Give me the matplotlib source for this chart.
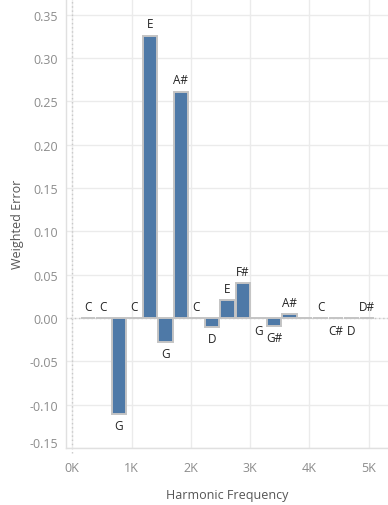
import matplotlib
matplotlib.use("Agg")
import matplotlib.pyplot as plt
import matplotlib.transforms as mtransforms

plt.rcParams['font.family'] = ['Open Sans', 'DejaVu Sans']

# Data
fundamental = 261.63
harmonics = list(range(1, 20))
notes = ["C", "C", "G", "C", "E", "G", "A#", "C", "D", "E", "F#", "G", "G#", "A#", "", "C", "C#", "D", "D#"]
errors = [0.0, 0.0, -0.1104, 0.0, 0.326, -0.0277, 0.2614, 0.0, -0.0100, 0.0203,
          0.0404, -0.0005, -0.0089, 0.0046, 0.0, 0.0, -0.0005, -0.0005, 0.0]
freqs = [h * fundamental for h in harmonics]

xticks = [0, 1000, 2000, 3000, 4000, 5000]
xticklabels = ["0K", "1K", "2K", "3K", "4K", "5K"]
yticks = [-0.15, -0.10, -0.05, 0.00, 0.05, 0.10, 0.15, 0.20, 0.25, 0.30, 0.35]

W, H = 388, 506
fig = plt.figure(figsize=(W / 100, H / 100), dpi=100)
ax = fig.add_axes([66 / W, 1 - 449 / H, (W - 66) / W, 449 / H])

bar_color = "#4e79a7"
edge_color = "#c4c4c4"
grid_color = "#ebebeb"

ax.set_xlim(-106, 5324)
ax.set_ylim(-0.15, 0.3683)

ax.set_xticks(xticks)
ax.set_xticklabels(xticklabels)
ax.set_yticks(yticks)
ax.set_yticklabels([f"{v:.2f}" for v in yticks])

ax.grid(True, color=grid_color, linewidth=1.0, zorder=0)
ax.set_axisbelow(True)

ax.axhline(0, color="#c8c8c8", linestyle=(0, (1, 2)), linewidth=1.0, zorder=1)
ax.plot([0, 0], [-0.156, 0.3683], color="#c8c8c8", linestyle=(0, (1, 2)),
        linewidth=1.0, zorder=1, clip_on=False)

ax.bar(freqs, errors, width=246, color=bar_color, edgecolor=edge_color,
       linewidth=1.4, zorder=3)

for f, e, n in zip(freqs, errors, notes):
    if not n:
        continue
    off = 8.5 if e >= 0 else -8.5
    ax.annotate(n, (f, e), xytext=(0, off), textcoords="offset points",
                ha="center", va="center", fontsize=8.5, color="#222222", zorder=4)

for s in ["top", "right"]:
    ax.spines[s].set_visible(False)
for s in ["left", "bottom"]:
    ax.spines[s].set_color("#e0e0e0")
    ax.spines[s].set_linewidth(1.0)

ax.tick_params(axis="both", length=0, colors="#8c8c8c", labelsize=9)
ax.tick_params(axis="y", pad=5.5)
ax.tick_params(axis="x", pad=9.5)

# shift bottom y label up like the reference
labels = ax.get_yticklabels()
labels[0].set_transform(labels[0].get_transform() +
                        mtransforms.ScaledTranslation(0, 6 / 100, fig.dpi_scale_trans))

ax.set_xlabel("Harmonic Frequency", fontsize=9, color="#555555", labelpad=10)
ax.set_ylabel("Weighted Error", fontsize=9, color="#555555", labelpad=4)

fig.savefig("out.png", dpi=100)
